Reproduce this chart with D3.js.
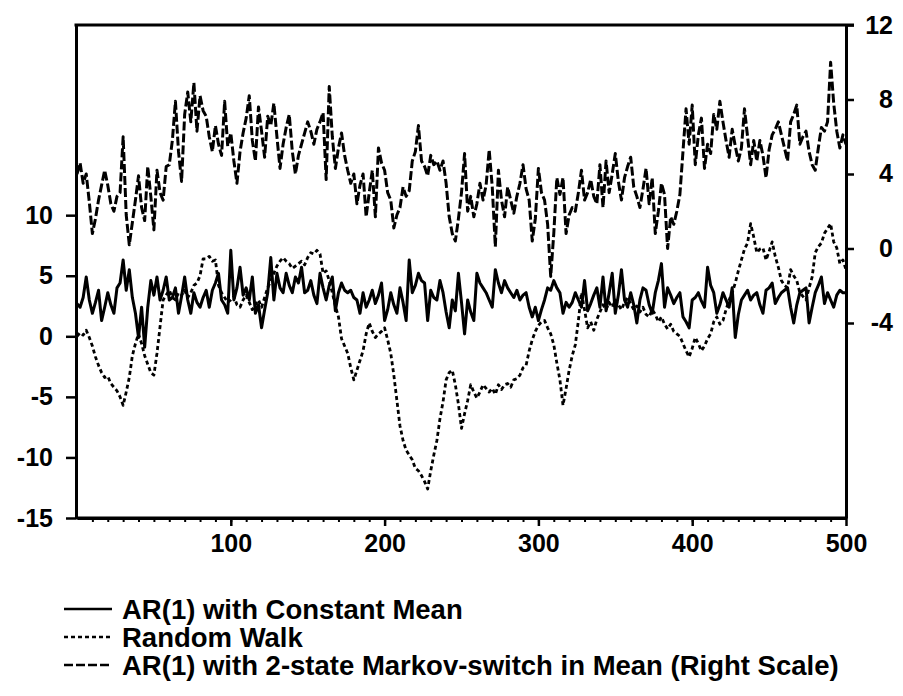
<!DOCTYPE html>
<html><head><meta charset="utf-8">
<script src="https://cdn.jsdelivr.net/npm/d3@7"></script>
<style>body{margin:0;background:#fff}svg{display:block}</style>
</head><body>
<svg id="c" width="903" height="696"></svg>
<script>
// observation index (every 2nd observation of 500)
const obs = d3.range(0, 501, 2);

// AR(1) with constant mean (left scale)
const ar1ConstantMean = [
2.7,2.4,3.2,4.9,3.0,1.9,2.8,3.8,1.3,2.4,
3.6,2.6,1.9,4.0,4.4,6.3,3.8,5.5,3.2,1.9,
-0.1,2.4,-0.9,2.4,4.6,3.4,4.9,3.0,3.8,4.9,
3.0,3.2,4.0,1.9,3.3,4.9,3.0,1.9,3.6,2.8,
2.4,3.2,3.8,2.4,3.8,4.4,5.2,3.0,2.6,1.9,
7.1,3.0,4.0,5.7,3.4,4.0,3.0,4.9,1.9,2.6,
0.7,2.2,3.6,6.5,3.0,5.2,4.0,3.6,5.2,4.2,
3.6,4.9,4.4,5.7,3.6,3.8,4.6,3.4,2.7,5.2,
4.0,3.0,4.2,4.9,2.1,3.6,4.4,3.8,3.6,3.8,
3.2,3.0,1.9,3.6,2.4,3.0,3.8,2.7,3.4,4.4,
1.3,2.2,3.6,2.6,1.9,4.0,2.8,1.3,6.3,3.6,
4.2,5.2,4.6,4.4,1.3,3.8,3.2,3.0,4.6,3.6,
2.0,0.7,3.0,2.1,5.2,2.8,0.2,3.0,2.0,1.3,
5.2,4.4,4.0,3.6,3.0,2.4,5.5,4.4,3.6,4.6,
4.0,3.6,3.2,3.8,3.0,3.4,3.6,2.4,1.6,2.4,
1.3,2.2,3.0,4.0,3.8,4.6,4.0,3.6,1.9,2.8,
2.4,2.8,3.6,3.0,2.4,4.6,2.1,2.7,3.4,4.0,
2.4,4.9,2.1,3.6,5.2,1.9,3.4,5.5,3.0,2.4,
3.6,2.6,1.1,3.0,4.0,3.8,2.6,1.9,3.6,4.6,
6.0,2.4,4.0,3.4,2.7,3.2,3.6,1.6,1.2,0.7,
3.0,3.2,3.6,2.9,2.4,5.7,4.2,3.6,1.9,2.6,
3.6,3.0,2.4,4.0,-0.1,1.8,3.0,3.4,3.8,3.0,
3.4,3.6,2.6,1.9,3.8,4.0,4.4,2.7,3.2,3.6,
3.8,4.0,2.4,1.1,2.6,3.6,3.8,4.0,1.1,2.4,
3.6,4.2,4.9,2.7,3.6,3.0,2.4,3.4,3.8,3.6,
3.6];

// Random walk (left scale)
const randomWalk = [
0.0,0.3,0.1,0.5,-0.1,-0.8,-1.7,-2.4,-3.0,-3.4,
-3.3,-3.9,-4.2,-4.5,-5.0,-5.7,-4.6,-3.4,-1.6,-0.6,
0.2,-0.6,-1.6,-2.3,-3.0,-3.2,-1.4,0.8,3.0,3.4,
3.8,3.2,3.0,3.6,3.4,3.8,3.2,3.6,4.2,4.4,
5.0,6.4,6.4,6.6,6.2,6.3,4.2,3.6,3.2,2.8,
3.0,3.3,2.6,2.4,3.0,3.4,2.8,2.2,2.6,3.0,
2.4,3.2,4.0,4.6,5.2,5.8,6.2,6.5,6.2,6.0,
5.6,5.8,6.0,6.2,5.9,6.5,6.9,6.8,7.1,6.8,
5.2,5.4,4.6,3.6,2.5,1.6,-0.2,-0.8,-1.4,-2.6,
-3.6,-2.8,-2.0,-1.2,0.2,1.1,0.4,-0.1,0.2,0.4,
0.7,-0.3,-1.4,-3.2,-5.3,-7.4,-8.6,-9.4,-9.8,-10.2,
-10.9,-11.1,-11.5,-12.0,-12.6,-11.1,-9.8,-8.6,-6.8,-5.4,
-3.6,-3.0,-2.8,-4.0,-5.6,-7.6,-6.4,-5.3,-4.0,-4.6,
-5.1,-4.6,-4.0,-4.3,-4.6,-4.3,-4.8,-4.0,-4.4,-4.0,
-3.9,-4.2,-3.6,-3.5,-3.2,-2.6,-2.4,-1.2,-0.3,0.4,
0.9,1.2,1.3,0.7,0.2,-0.7,-2.2,-3.6,-5.7,-4.3,
-2.8,-1.6,-0.7,1.3,3.6,2.2,0.7,1.2,0.5,1.4,
2.0,2.6,2.2,2.8,2.4,3.0,2.6,2.2,2.8,3.2,
2.7,2.2,2.5,2.0,2.4,1.8,1.6,2.2,1.8,1.2,
1.6,1.0,0.6,1.0,0.4,0.2,0.0,-0.6,-1.2,-1.7,
-1.0,-0.1,-0.6,-1.2,-0.8,-0.2,0.2,1.2,1.6,1.0,
1.3,2.2,3.0,3.6,4.4,5.4,6.3,7.2,7.7,9.3,
8.2,6.9,7.2,7.3,6.3,7.0,7.8,6.6,5.7,4.6,
4.2,4.0,5.5,5.0,4.6,3.6,3.3,3.0,4.0,4.9,
6.9,7.4,7.7,8.5,8.9,9.3,7.8,7.3,6.0,6.3,
5.5];

// AR(1) with 2-state Markov-switch in mean (right scale)
const markovSwitch = [
4.0,4.6,3.5,4.0,2.5,0.8,1.6,2.6,3.4,4.2,
3.4,2.4,2.0,2.8,3.0,6.0,1.8,0.2,1.4,2.6,
3.9,2.2,1.5,4.4,2.8,1.0,4.2,3.0,2.6,4.4,
4.5,5.8,7.9,5.2,3.6,7.2,8.4,6.8,8.9,6.3,
8.2,7.4,7.1,6.0,5.2,6.6,5.6,5.0,7.9,5.5,
6.2,4.7,3.5,5.2,6.2,7.0,8.2,5.8,4.7,7.6,
6.3,4.9,7.1,6.6,7.8,6.0,4.3,5.6,6.5,7.2,
5.2,4.0,5.0,5.6,6.2,6.8,6.3,5.6,6.4,6.8,
7.3,3.7,8.7,6.0,4.3,5.4,6.2,5.0,4.2,3.5,
4.0,2.4,3.4,4.0,1.7,3.0,4.2,1.7,5.4,4.6,
4.2,3.0,2.6,1.1,1.8,2.2,3.3,2.8,3.1,4.7,
5.2,6.6,4.7,4.4,3.9,5.0,4.5,4.7,4.2,4.7,
3.5,1.7,0.8,0.4,1.6,3.0,5.1,2.0,2.8,1.7,
2.4,3.5,2.6,3.4,5.3,3.3,0.1,4.2,2.6,1.7,
3.3,2.6,1.9,2.8,3.5,4.5,3.2,2.6,0.4,1.6,
4.3,3.0,2.6,1.3,-1.5,0.8,3.8,2.9,3.8,0.8,
1.8,2.2,2.0,3.0,4.2,2.6,3.0,3.7,2.8,2.4,
4.5,2.2,4.7,3.0,4.0,5.1,3.6,2.6,3.8,4.4,
4.9,3.3,2.8,2.2,3.2,4.3,2.4,3.8,0.8,2.0,
3.5,2.9,0.0,1.7,1.3,2.0,2.9,5.2,7.5,5.6,
7.7,4.5,6.1,7.0,4.3,5.6,5.1,7.2,6.4,7.9,
6.8,5.8,4.9,6.4,5.5,4.7,5.4,7.5,6.0,4.5,
5.8,4.7,5.8,5.0,3.8,5.3,6.1,6.4,6.8,6.1,
5.4,4.7,6.8,7.2,7.7,5.6,6.0,6.3,5.2,4.5,
4.2,5.4,6.5,6.3,6.8,10.0,7.8,6.3,5.4,6.1,
5.6];

const xMajorTicks = [100, 200, 300, 400, 500];
const xMinorTicks = d3.range(10, 500, 10);
const leftTicks = [-15, -10, -5, 0, 5, 10];
const rightTicks = [-4, 0, 4, 8, 12];
const legendLabels = ["AR(1) with Constant Mean", "Random Walk", "AR(1) with 2-state Markov-switch in Mean (Right Scale)"];
const dashes = [null, "4,3", "9,3"];

const svg = d3.select('#c');
const FONT = "'Liberation Sans', Arial, sans-serif";
const P = {left: 76, right: 846, top: 25, bottom: 518};

const x = d3.scaleLinear().domain([0, 500]).range([P.left + 1, P.right]);
const yL = d3.scaleLinear().domain([-15, 25.7]).range([P.bottom, P.top]);
const yR = d3.scaleLinear().domain([-14.47, 12]).range([P.bottom, P.top]);

function styleAxis(g) {
  g.selectAll('path.domain').attr('stroke', '#000').attr('stroke-width', 3);
  g.selectAll('.tick line').attr('stroke', '#000').attr('stroke-width', 2.5);
  g.selectAll('.tick text').attr('fill', '#000')
    .style('font-family', FONT).style('font-size', '25px').style('font-weight', 'bold');
}

// top border
svg.append('line').attr('x1', P.left - 1.5).attr('x2', P.right + 8).attr('y1', P.top).attr('y2', P.top)
  .attr('stroke', '#000').attr('stroke-width', 3);

// left axis
const gL = svg.append('g').attr('transform', `translate(${P.left},0)`)
  .call(d3.axisLeft(yL).tickValues(leftTicks).tickSize(10).tickSizeOuter(0).tickPadding(13).tickFormat(d => String(d)));
styleAxis(gL);

// right axis (labels right-aligned)
const gR = svg.append('g').attr('transform', `translate(${P.right},0)`)
  .call(d3.axisRight(yR).tickValues(rightTicks).tickSize(8).tickSizeOuter(0).tickPadding(8).tickFormat(d => String(d)));
styleAxis(gR);
gR.selectAll('.tick text').attr('text-anchor', 'end').attr('x', 47);

// bottom axis: minor then major
const gBm = svg.append('g').attr('transform', `translate(0,${P.bottom})`)
  .call(d3.axisBottom(x).tickValues(xMinorTicks).tickSize(4).tickSizeOuter(0).tickFormat(''));
styleAxis(gBm);
gBm.selectAll('.tick line').attr('stroke-width', 2);
const gB = svg.append('g').attr('transform', `translate(0,${P.bottom})`)
  .call(d3.axisBottom(x).tickValues(xMajorTicks).tickSize(8).tickSizeOuter(0).tickPadding(8).tickFormat(d => String(d)));
styleAxis(gB);
gB.select('path.domain').attr('d', `M${P.left},0H${P.right}`);

// series
const series = [
  {vals: ar1ConstantMean, y: yL, w: 3},
  {vals: randomWalk, y: yL, w: 2.8},
  {vals: markovSwitch, y: yR, w: 3}
];
series.forEach((s, i) => {
  const line = d3.line().x((d, j) => x(obs[j])).y(d => s.y(d));
  svg.append('path').datum(s.vals)
    .attr('d', line)
    .attr('fill', 'none').attr('stroke', '#000').attr('stroke-width', s.w)
    .attr('stroke-linejoin', 'round')
    .attr('stroke-dasharray', dashes[i]);
});

// legend
const legY = [609, 637, 665];
legendLabels.forEach((lab, i) => {
  svg.append('line').attr('x1', 64).attr('x2', 112).attr('y1', legY[i]).attr('y2', legY[i])
    .attr('stroke', '#000').attr('stroke-width', 2.4).attr('stroke-dasharray', dashes[i]);
  svg.append('text').attr('x', 122).attr('y', legY[i]).attr('dy', '0.36em')
    .style('font-family', FONT).style('font-size', '27.5px').style('font-weight', 'bold')
    .text(lab);
});
</script>
</body></html>
